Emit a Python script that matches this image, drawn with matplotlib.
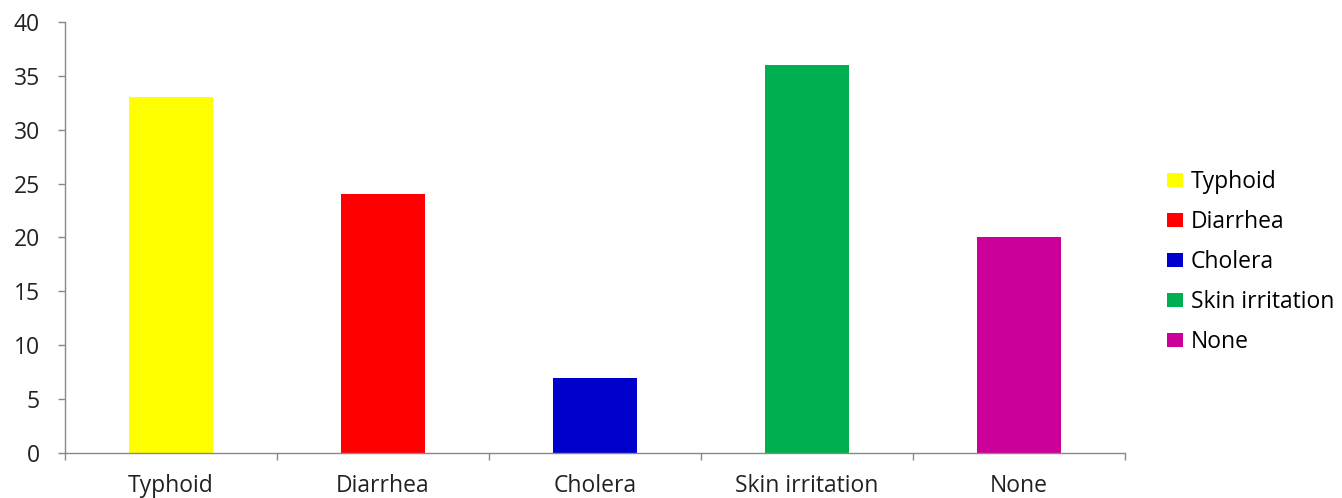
import matplotlib.pyplot as plt
from matplotlib.patches import Patch

categories = ["Typhoid", "Diarrhea", "Cholera", "Skin irritation", "None"]
values = [33, 24, 7, 36, 20]
colors = ["#FFFF00", "#FF0000", "#0000CC", "#00B050", "#CC0099"]
yticks = [0, 5, 10, 15, 20, 25, 30, 35, 40]

plt.rcParams['font.family'] = ['Open Sans', 'DejaVu Sans']
FS = 16.5

fig = plt.figure(figsize=(13.42, 4.98), dpi=100)
W, H = 1342, 498
ax = fig.add_axes([65 / W, (H - 453) / H, (1125 - 65) / W, (453 - 22) / H])

x = list(range(len(categories)))
ax.bar(x, values, width=0.4, color=colors)

ax.set_xlim(-0.5, len(categories) - 0.5)
ax.set_ylim(0, 40)
ax.set_yticks(yticks)
ax.tick_params(axis='y', labelsize=FS, colors='#888888', labelcolor='#222222',
               length=5, width=1, pad=13)

# category labels centred, ticks drawn on the boundaries between them
ax.set_xticks(x)
ax.set_xticklabels(categories, fontsize=FS, color='#222222')
ax.tick_params(axis='x', which='major', length=0, pad=15)
ax.set_xticks([i + 0.5 for i in range(-1, len(categories))], minor=True)
ax.tick_params(axis='x', which='minor', length=5, width=1, colors='#888888')

for side in ['top', 'right']:
    ax.spines[side].set_visible(False)
for side in ['left', 'bottom']:
    ax.spines[side].set_color('#888888')
    ax.spines[side].set_linewidth(1)

handles = [Patch(facecolor=c, edgecolor='none', label=n) for c, n in zip(colors, categories)]
fig.legend(handles=handles, loc='upper left', bbox_to_anchor=(1167 / W, (H - 170) / H),
           frameon=False, fontsize=FS, handlelength=0.7, handleheight=0.52,
           handletextpad=0.33, labelspacing=0.7, borderaxespad=0, borderpad=0)

fig.savefig("out.png", dpi=100)
